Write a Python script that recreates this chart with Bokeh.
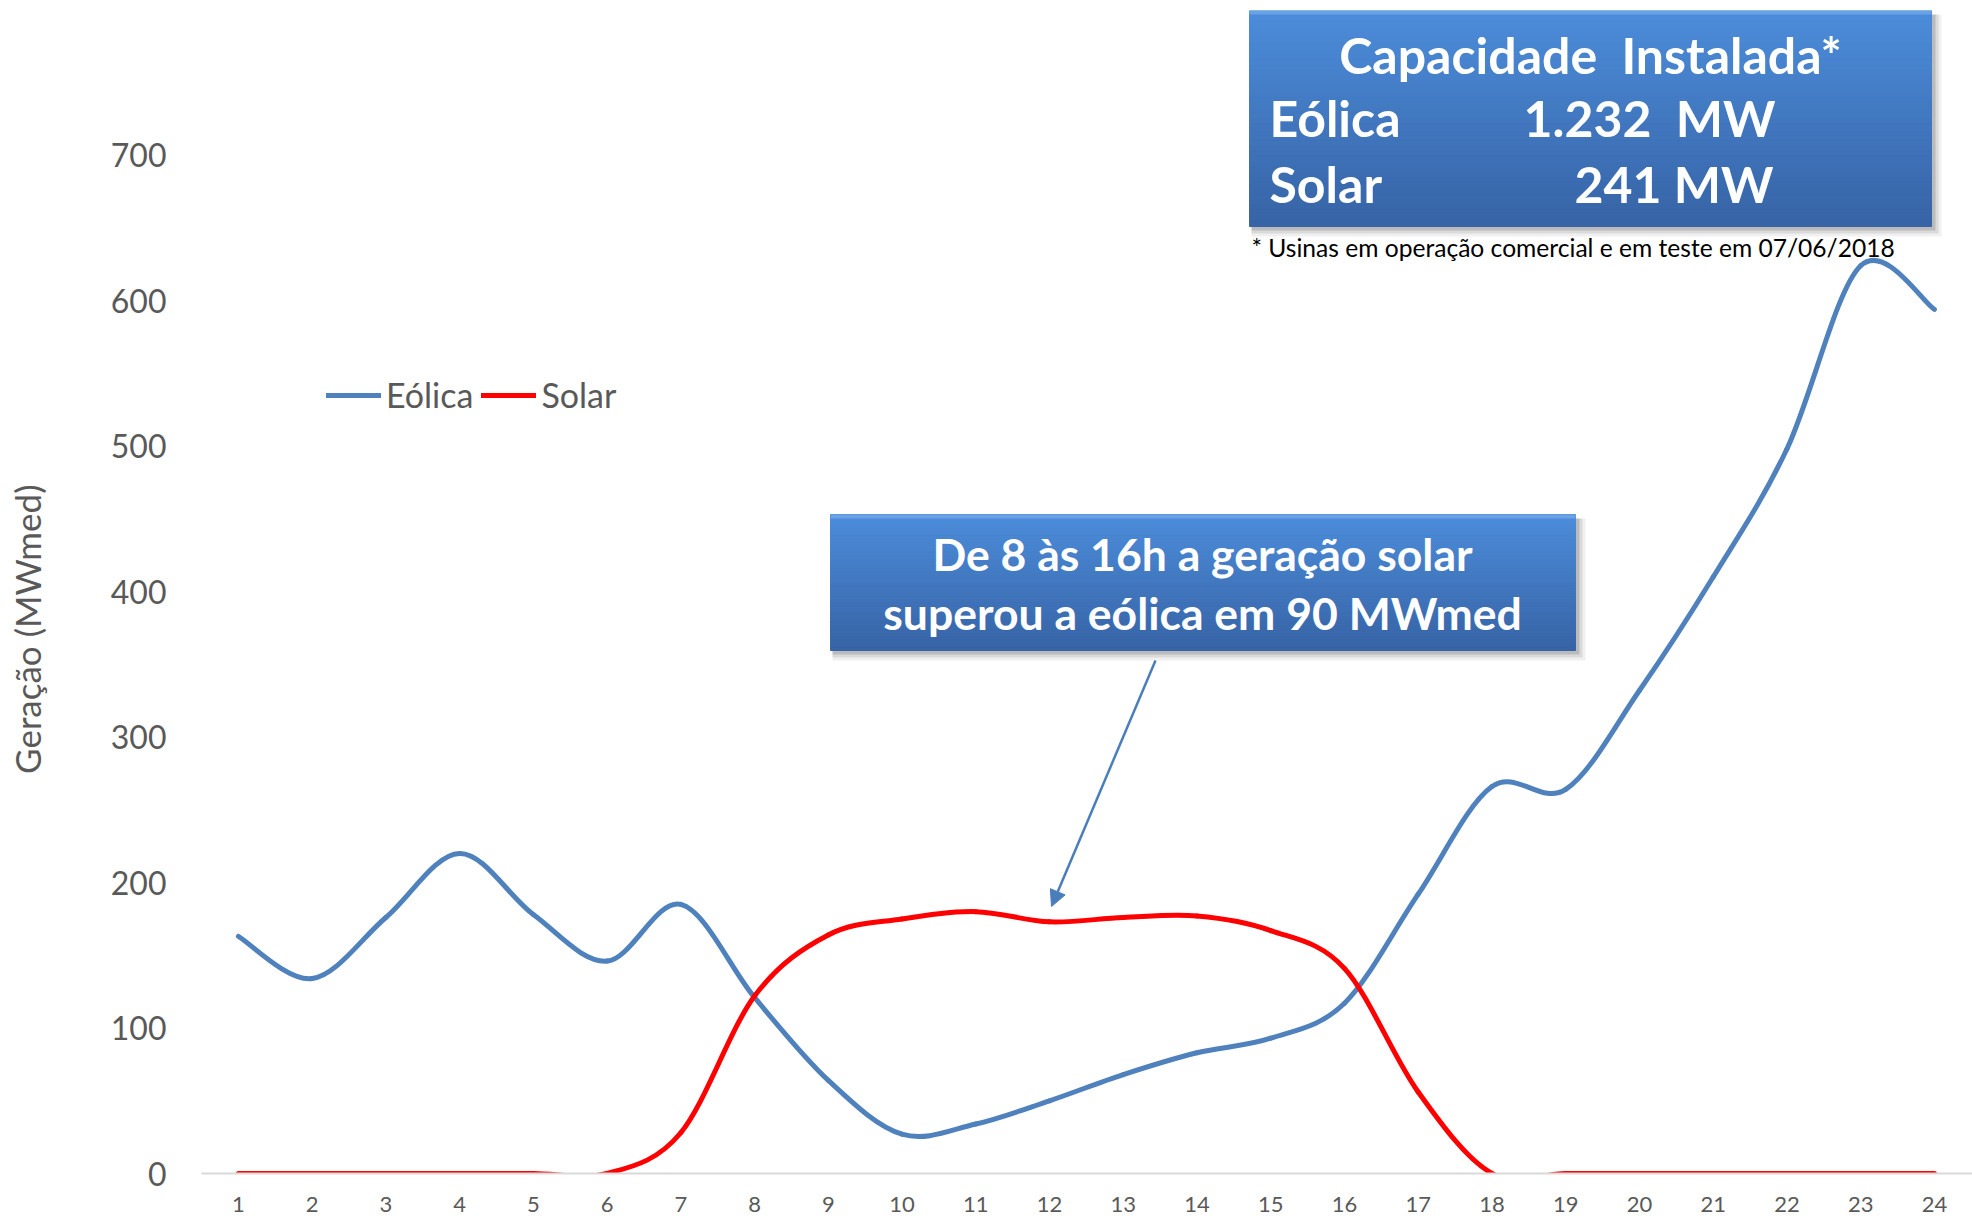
import numpy as np
from bokeh.plotting import figure
from bokeh.layouts import row
from bokeh.models import (Range1d, FixedTicker, Legend, LegendItem, Label,
                          Arrow, NormalHead)
from bokeh.embed import file_html
from bokeh.resources import INLINE

# ---------------- data ----------------
hours = list(range(1, 25))
eolica = [163, 134, 176, 220, 178, 146, 185, 121, 64, 27, 34, 50,
          68, 83, 93, 117, 192, 266, 264, 332, 410, 498, 624, 594]
solar = [0, 0, 0, 0, 0, 0, 28, 122, 164, 175, 180, 173,
         176, 177, 167, 141, 56, 0, 0, 0, 0, 0, 0, 0]
y_ticks = [0, 100, 200, 300, 400, 500, 600, 700]
series_names = ["Eólica", "Solar"]
y_title = "Geração (MWmed)"
box1_title = "Capacidade\u00a0 Instalada*"
box1_rows = [("Eólica", "1.232\u00a0 MW"), ("Solar", "241 MW")]
footnote = "* Usinas em operação comercial e em teste em 07/06/2018"
box2_lines = ["De 8 às 16h a geração solar", "superou a eólica em 90 MWmed"]

# ---------------- layout ----------------
W, H = 1972, 1218
LW = 60                              # width of the strip holding the y title
FL, FT, FB = 201, 10, 1173           # frame left / top / bottom on page
PX_H = 73.74                         # pixels per hour
PX_V = (FB - 154.7) / 700.0          # pixels per MW
GRAY = "#595959"


def X(px):
    return 0.5 + (np.asarray(px, float) - FL) / PX_H


def Y(py):
    return (FB - np.asarray(py, float)) / PX_V


# strip with the vertical axis title
t = figure(width=LW, height=H, output_backend="svg", toolbar_location=None,
           x_range=Range1d(0, LW), y_range=Range1d(0, H),
           x_axis_location=None, y_axis_location=None, min_border=0)
t.outline_line_color = None
t.xgrid.visible = False
t.ygrid.visible = False
t.add_layout(Label(x=26, y=H - 648, text=y_title, angle=np.pi / 2,
                   text_align="center", text_baseline="middle",
                   text_font="Lato", text_font_size="35px", text_color=GRAY))

p = figure(width=W - LW, height=H, output_backend="svg", toolbar_location=None,
           x_range=Range1d(0.5, float(X(W))), y_range=Range1d(0, float(Y(FT))),
           min_border_left=FL - LW, min_border_right=0,
           min_border_top=FT, min_border_bottom=H - FB)
p.outline_line_color = None
p.xgrid.visible = False
p.ygrid.visible = False
p.background_fill_color = "white"
p.border_fill_color = "white"

# x axis
p.xaxis.ticker = FixedTicker(ticks=hours)
p.xaxis.axis_line_color = "#d9d9d9"
p.xaxis.axis_line_width = 2
p.xaxis.major_tick_line_color = None
p.xaxis.minor_tick_line_color = None
p.xaxis.major_label_standoff = 17
p.xaxis.major_label_text_font = "Lato"
p.xaxis.major_label_text_font_size = "22px"
p.xaxis.major_label_text_color = GRAY
# y axis
p.yaxis.ticker = FixedTicker(ticks=y_ticks)
p.yaxis.axis_line_color = None
p.yaxis.major_tick_line_color = None
p.yaxis.minor_tick_line_color = None
p.yaxis.major_label_standoff = 29
p.yaxis.major_label_text_font = "Lato"
p.yaxis.major_label_text_font_size = "32px"
p.yaxis.major_label_text_color = GRAY


# ---------------- smoothed series (Bezier through the data points) ----------------
def bezier_cps(xs, ys):
    x = np.asarray(xs, float)
    y = np.asarray(ys, float)
    xp = np.concatenate([[x[0]], x, [x[-1]]])
    yp = np.concatenate([[y[0]], y, [y[-1]]])
    n = len(x)
    d = dict(x0=[], y0=[], x1=[], y1=[], cx0=[], cy0=[], cx1=[], cy1=[])
    for i in range(n - 1):
        d["x0"].append(x[i]); d["y0"].append(y[i])
        d["x1"].append(x[i + 1]); d["y1"].append(y[i + 1])
        d["cx0"].append(x[i] + (x[i + 1] - xp[i]) / 6)
        d["cy0"].append(y[i] + (y[i + 1] - yp[i]) / 6)
        d["cx1"].append(x[i + 1] - (xp[i + 3] - x[i]) / 6)
        d["cy1"].append(y[i + 1] - (yp[i + 3] - y[i]) / 6)
    return d


r_e = p.bezier(**bezier_cps(hours, eolica), line_color="#4f81bd",
               line_width=5, line_cap="round")
r_s = p.bezier(**bezier_cps(hours, solar), line_color="#ff0000",
               line_width=5, line_cap="round")

legend = Legend(items=[LegendItem(label=series_names[0], renderers=[r_e], index=0),
                       LegendItem(label=series_names[1], renderers=[r_s], index=0)],
                orientation="horizontal", location=(125, 758),
                padding=0, margin=0, spacing=8, label_standoff=5,
                glyph_width=55, glyph_height=20,
                label_text_font="Lato", label_text_font_size="34px",
                label_text_color=GRAY, border_line_color=None,
                background_fill_alpha=0)
p.add_layout(legend)


# ---------------- annotation boxes ----------------
def mix(c1, c2, tt):
    return "#%02x%02x%02x" % tuple(int(round(a + (b - a) * tt)) for a, b in zip(c1, c2))


def gbox(px0, py0, px1, py1, top=(76, 140, 218), bot=(55, 100, 166), n=40):
    # soft shadow
    for k, a in [(10, 0.06), (7, 0.09), (4, 0.14)]:
        p.quad(left=[float(X(px0 + 2))], right=[float(X(px1 + k))],
               top=[float(Y(py0 + 4))], bottom=[float(Y(py1 + k))],
               fill_color="black", fill_alpha=a, line_color=None)
    edges = np.linspace(py0, py1, n + 1)
    cols = [mix(top, bot, i / (n - 1)) for i in range(n)]
    p.quad(left=[float(X(px0))] * n, right=[float(X(px1))] * n,
           top=list(Y(edges[:-1])), bottom=list(Y(edges[1:])),
           fill_color=cols, line_color=cols, line_width=1)
    # light bevel on top
    p.quad(left=[float(X(px0))], right=[float(X(px1))], top=[float(Y(py0))],
           bottom=[float(Y(py0 + 4))], fill_color="#7fb2ec", fill_alpha=0.6, line_color=None)


WHITE = "white"
# Box 1: installed capacity
gbox(1249, 10, 1931, 226)
p.add_layout(Label(x=float(X(1590)), y=float(Y(54)), text=box1_title, text_align="center",
                   text_baseline="middle", text_font="Lato", text_font_style="bold",
                   text_font_size="50px", text_color=WHITE))
for (name, val), cy, vx in zip(box1_rows, [117, 183], [1523, 1574]):
    p.add_layout(Label(x=float(X(1269)), y=float(Y(cy)), text=name, text_align="left",
                       text_baseline="middle", text_font="Lato", text_font_style="bold",
                       text_font_size="50px", text_color=WHITE))
    p.add_layout(Label(x=float(X(vx)), y=float(Y(cy)), text=val, text_align="left",
                       text_baseline="middle", text_font="Lato", text_font_style="bold",
                       text_font_size="50px", text_color=WHITE))
p.add_layout(Label(x=float(X(1251)), y=float(Y(247)), text=footnote, text_align="left",
                   text_baseline="middle", text_font="Lato", text_font_size="24.6px",
                   text_color="black"))

# Box 2: comment
gbox(830, 514, 1575, 650)
for line, cy in zip(box2_lines, [553, 612]):
    p.add_layout(Label(x=float(X(1202)), y=float(Y(cy)), text=line, text_align="center",
                       text_baseline="middle", text_font="Lato", text_font_style="bold",
                       text_font_size="44.5px", text_color=WHITE))

# arrow
p.add_layout(Arrow(end=NormalHead(size=16, fill_color="#4a7ebb", line_color="#4a7ebb"),
                   x_start=float(X(1155)), y_start=float(Y(660)),
                   x_end=float(X(1051)), y_end=float(Y(906)),
                   line_color="#4a7ebb", line_width=2.5))

layout = row(t, p, spacing=0)
open("out.html", "w").write(file_html(layout, INLINE))
